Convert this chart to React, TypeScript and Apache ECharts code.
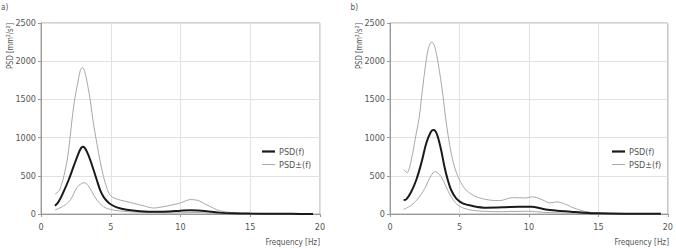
import React, { useEffect, useRef } from "react";
import * as echarts from "echarts";

// Panel a)
const aMean: [number, number][] = [
  [1, 108], [1.26, 160], [1.62, 292], [1.98, 445], [2.33, 619], [2.69, 794], [2.88, 865], [3.0, 881],
  [3.12, 868], [3.29, 816], [3.53, 707], [3.77, 576], [4.0, 445], [4.24, 314], [4.48, 227], [4.72, 170],
  [4.96, 131], [5.44, 87], [6.15, 55], [7.1, 37], [8.3, 30], [9.2, 34], [10.0, 44],
  [10.7, 50], [11.3, 46], [12.0, 32], [12.8, 18], [13.8, 9], [15, 5], [16.5, 3], [18, 2], [19.5, 1],
];
const aUpper: [number, number][] = [
  [1, 260], [1.33, 314], [1.74, 576], [1.98, 838], [2.22, 1230], [2.41, 1492], [2.65, 1730],
  [2.82, 1880], [2.95, 1915], [3.05, 1905], [3.2, 1820], [3.35, 1680], [3.53, 1492], [3.72, 1230],
  [4.0, 930], [4.24, 690], [4.48, 490], [4.72, 340], [4.96, 245], [5.3, 205], [5.68, 182], [6.64, 140],
  [7.4, 105], [8.07, 78], [8.6, 90], [9.3, 115], [10.0, 145], [10.7, 188], [11.2, 180],
  [11.9, 118], [12.8, 44], [13.8, 17], [15, 9], [16.5, 5], [18, 2], [19.5, 1],
];
const aLower: [number, number][] = [
  [1, 52], [1.62, 105], [2.1, 183], [2.58, 349], [2.9, 398], [3.1, 408], [3.35, 380], [3.65, 292],
  [4.0, 183], [4.48, 96], [4.96, 61], [5.68, 39], [7.1, 22], [8.5, 15], [10.0, 15],
  [11.0, 20], [12.0, 12], [13.0, 5], [15, 2], [17, 1], [19.5, 0],
];

// Panel b)
const bMean: [number, number][] = [
  [0.98, 183], [1.17, 192], [1.53, 292], [1.89, 445], [2.25, 663], [2.61, 925], [2.9, 1060],
  [3.1, 1098], [3.25, 1090], [3.44, 1012], [3.68, 838], [3.92, 619], [4.16, 445], [4.4, 314], [4.76, 205],
  [5.23, 140], [5.95, 105], [6.91, 83], [8.1, 87], [9.3, 96], [10.25, 94], [11.2, 60],
  [12, 44], [13, 31], [14, 17], [15, 9], [17, 4], [19.5, 2],
];
const bUpper: [number, number][] = [
  [1.0, 580], [1.22, 541], [1.53, 707], [1.89, 1056], [2.1, 1260], [2.25, 1492], [2.45, 1800],
  [2.61, 2016], [2.75, 2160], [2.9, 2235], [3.02, 2247], [3.14, 2230], [3.28, 2150], [3.44, 2000],
  [3.65, 1760], [3.85, 1492], [4.0, 1260], [4.2, 1010], [4.4, 800],
  [4.64, 620], [5.0, 445], [5.48, 314], [6.19, 227], [7.15, 183], [7.87, 175], [8.82, 214],
  [9.77, 210], [10.25, 225], [11, 183], [11.5, 145], [12, 158], [12.5, 138], [13, 96],
  [13.5, 61], [14, 35], [15, 12], [17, 6], [19.5, 3],
];
const bLower: [number, number][] = [
  [0.98, 61], [1.65, 131], [2.37, 292], [2.85, 467], [3.1, 540], [3.28, 554], [3.45, 535], [3.68, 488], [4.04, 357],
  [4.4, 227], [4.88, 118], [5.48, 66], [6.43, 39], [8, 30], [10, 36], [11, 22], [13, 10],
  [15, 3], [17, 2], [19.5, 1],
];

const xTicks = { min: 0, max: 20, interval: 5 };
const yTicks = { min: 0, max: 2500, interval: 500 };
const meanName = "PSD(f)";
const bandName = "PSD±(f)";
const panelLabels = ["a)", "b)"];
const yAxisName = "PSD [mm²/s²]";
const xAxisName = "Frequency [Hz]";

const FONT = "'Liberation Sans Narrow', 'DejaVu Sans Condensed', 'Liberation Sans', sans-serif";
const TEXT = "#555";
const BLACK = "#1a1a1a";
const GREY = "#a8a8a8";

export default function App() {
  const ref = useRef<HTMLDivElement>(null);
  useEffect(() => {
    if (!ref.current) return;
    const chart = echarts.init(ref.current, undefined, { renderer: "svg" });
    const grids = [
      { left: 41, top: 23, width: 279, height: 191 },
      { left: 390, top: 23, width: 279, height: 191 },
    ];
    const xAxis = grids.map((_, i) => ({
      type: "value",
      gridIndex: i,
      ...xTicks,
      axisLine: { show: true, lineStyle: { color: "#999", width: 1 } },
      axisTick: { show: true, length: 3, lineStyle: { color: "#999" } },
      axisLabel: { fontSize: 9, color: TEXT, fontFamily: FONT, margin: 8, formatter: (v: number) => String(v) },
      splitLine: { show: true, lineStyle: { color: "#e2e2e2", width: 1 } },
    }));
    const yAxis = grids.map((_, i) => ({
      type: "value",
      gridIndex: i,
      ...yTicks,
      axisLine: { show: true, lineStyle: { color: "#999", width: 1 } },
      axisTick: { show: true, length: 3, lineStyle: { color: "#999" } },
      axisLabel: { fontSize: 9, color: TEXT, fontFamily: FONT, margin: 5, formatter: (v: number) => String(v) },
      splitLine: { show: true, lineStyle: { color: "#e2e2e2", width: 1 } },
    }));
    const mk = (name: string, data: [number, number][], idx: number, black: boolean) => ({
      type: "line",
      name,
      xAxisIndex: idx,
      yAxisIndex: idx,
      data,
      smooth: 0.35,
      symbol: "none",
      silent: true,
      lineStyle: black ? { color: BLACK, width: 2 } : { color: GREY, width: 1 },
      itemStyle: { color: black ? BLACK : GREY },
      z: black ? 3 : 2,
    });
    const series = [
      mk(bandName, aUpper, 0, false),
      mk(bandName, aLower, 0, false),
      mk(meanName, aMean, 0, true),
      mk(bandName, bUpper, 1, false),
      mk(bandName, bLower, 1, false),
      mk(meanName, bMean, 1, true),
    ];
    const legend = [262, 612].map((left) => ({
      left,
      top: 147,
      orient: "vertical",
      itemWidth: 13,
      itemHeight: 8,
      itemGap: 4,
      padding: 0,
      selectedMode: false,
      symbolKeepAspect: true,
      data: [
        { name: meanName, icon: "path://M0 0H13V2.2H0Z", itemStyle: { color: BLACK } },
        { name: bandName, icon: "path://M0 0H13V1H0Z", itemStyle: { color: GREY } },
      ],
      textStyle: { fontSize: 9, color: TEXT, fontFamily: FONT, padding: [0, 0, 0, -1] },
    }));
    const offsets = [0, 349.6];
    const graphic: any[] = [];
    offsets.forEach((dx, i) => {
      graphic.push({
        type: "text",
        x: 1 + dx,
        y: 7,
        scaleX: 0.9,
        style: { text: panelLabels[i], fontSize: 9, fill: TEXT, fontFamily: FONT, verticalAlign: "middle", align: "left" },
      });
      graphic.push({
        type: "text",
        x: 9.5 + dx,
        y: 46,
        rotation: Math.PI / 2,
        scaleX: 0.85,
        style: { text: yAxisName, fontSize: 9, fill: TEXT, fontFamily: FONT, verticalAlign: "middle", align: "center" },
      });
      graphic.push({
        type: "text",
        x: grids[i].left + grids[i].width,
        y: 242,
        scaleX: 0.85,
        style: { text: xAxisName, fontSize: 9.5, fill: TEXT, fontFamily: FONT, verticalAlign: "middle", align: "right" },
      });
    });
    chart.setOption({
      animation: false,
      backgroundColor: "#fff",
      grid: grids.map((g) => ({ ...g, show: true, borderColor: "#aaa", borderWidth: 1, backgroundColor: "transparent" })),
      xAxis,
      yAxis,
      legend,
      series,
      graphic,
    });
    return () => chart.dispose();
  }, []);
  return (
    <div
      ref={ref}
      style={{ position: "absolute", left: 0, top: 0, width: 676, height: 250 }}
    />
  );
}
